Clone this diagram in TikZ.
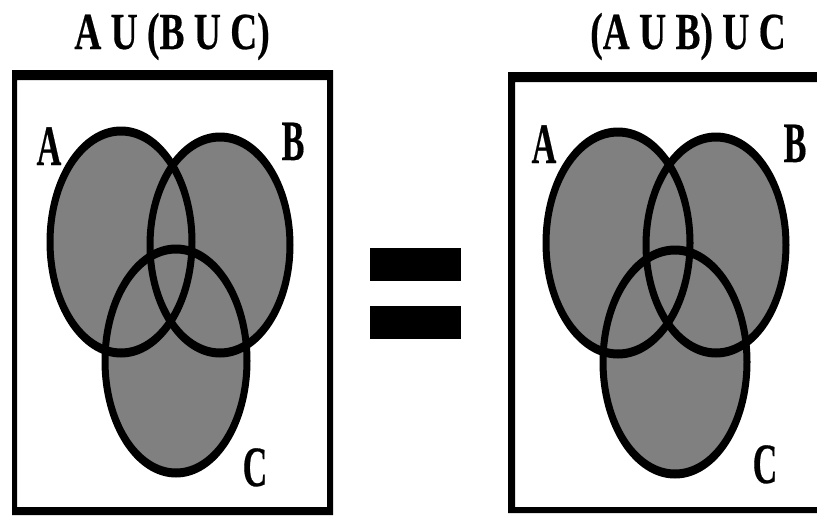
\documentclass[tikz,border=0pt]{standalone}
\usepackage{fontspec}
\setmainfont{Liberation Serif}
\newfontfamily\ttlfont{Liberation Serif Bold}[FakeBold=0.5]
\definecolor{venngray}{HTML}{808080}
\newcommand\vennFill[3]{\fill[venngray] #1 ellipse [x radius=#2, y radius=#3];}
\newcommand\vennRing[3]{\fill[black,even odd rule] #1 ellipse [x radius=#2+3.5, y radius=#3+4.5] #1 ellipse [x radius=#2-3.5, y radius=#3-4.5];}
\begin{document}
\begin{tikzpicture}[x=1pt,y=-1pt,
  frame/.style={fill=black,even odd rule},
  ttl/.style={font=\ttlfont\fontsize{52}{52}\selectfont, xscale=0.72, anchor=base, inner sep=0pt},
  lbl/.style={font=\ttlfont\fontsize{57}{57}\selectfont, xscale=0.6, anchor=base, inner sep=0pt}]
\useasboundingbox (0,0) rectangle (817,515);
\fill[white] (0,0) rectangle (817,515);
% frames
\fill[frame] (12,70) rectangle (333,515) (17,80) rectangle (327,507);
\fill[frame] (508,72) rectangle (830,513) (515,82) rectangle (825,507);
% left panel
\vennFill{(121,242)}{71}{111}
\vennFill{(220,245)}{70}{108}
\vennFill{(176,361)}{71}{112}
\vennRing{(121,242)}{71}{111}
\vennRing{(220,245)}{70}{108}
\vennRing{(176,361)}{71}{112}
% right panel
\vennFill{(618,243)}{72}{111}
\vennFill{(716,245)}{70}{108}
\vennFill{(675,362)}{72}{112}
\vennRing{(618,243)}{72}{111}
\vennRing{(716,245)}{70}{108}
\vennRing{(675,362)}{72}{112}
% equals sign
\fill[black] (370,248) rectangle (461,281);
\fill[black] (370,306) rectangle (461,339);
% titles
\node[ttl] (t1) at (172,49) {A U (B U C)};
\node[ttl] (t2) at (688,49) {(A U B) U C};
% labels
\node[lbl] (la) at (49,165) {A};
\node[lbl] (lb) at (293,160) {B};
\node[lbl] (lc) at (255,486) {C};
\node[lbl] (ra) at (544,163) {A};
\node[lbl] (rb) at (795,162) {B};
\node[lbl] (rc) at (765,483) {C};
\end{tikzpicture}
\end{document}
